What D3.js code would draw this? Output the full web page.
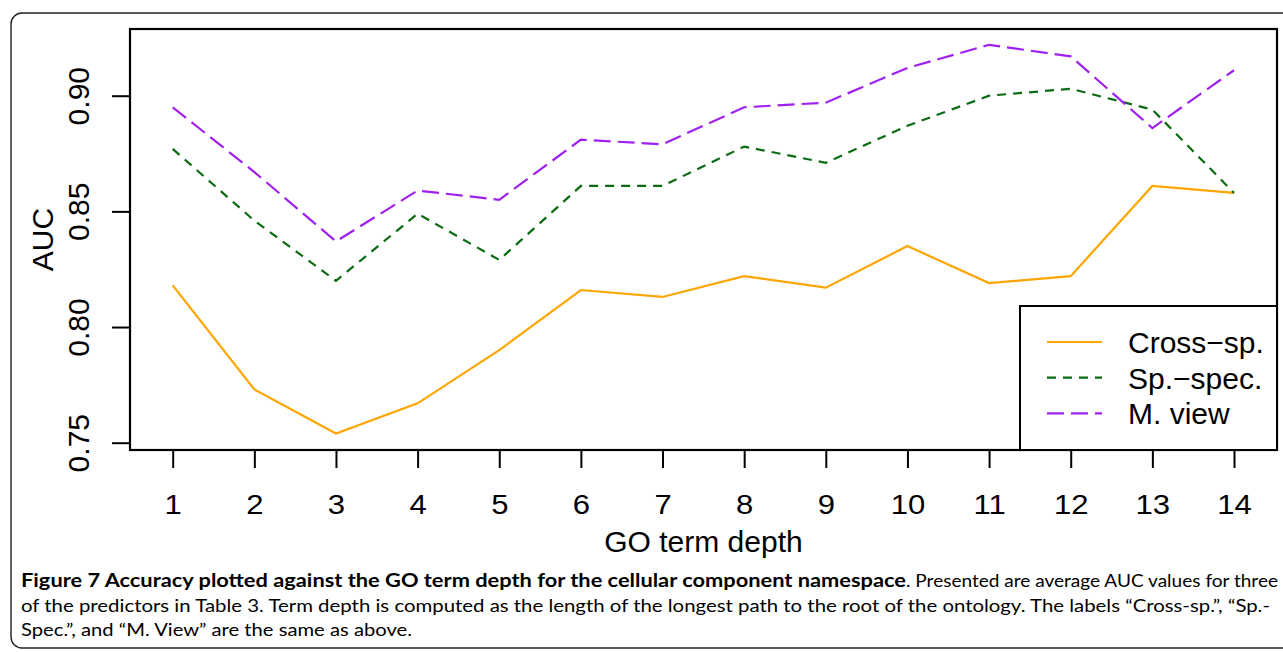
<!DOCTYPE html>
<html>
<head>
<meta charset="utf-8">
<script src="https://cdn.jsdelivr.net/npm/d3@7"></script>
<style>
  body { margin: 0; background: #fff; }
  svg { display: block; }
  .axis text { font-family: "Liberation Sans", Arial, Helvetica, sans-serif; fill: #000; }
</style>
</head>
<body>
<div id="vis"></div>
<script>
// GO term depth on the x axis
var depths = [1, 2, 3, 4, 5, 6, 7, 8, 9, 10, 11, 12, 13, 14];

// average AUC per predictor
var crossSp = [0.818, 0.773, 0.754, 0.767, 0.790, 0.816, 0.813, 0.822, 0.817, 0.835, 0.819, 0.822, 0.861, 0.858];
var spSpec  = [0.877, 0.846, 0.820, 0.849, 0.829, 0.861, 0.861, 0.878, 0.871, 0.887, 0.900, 0.903, 0.894, 0.858];
var mView   = [0.895, 0.867, 0.837, 0.859, 0.855, 0.881, 0.879, 0.895, 0.897, 0.912, 0.922, 0.917, 0.886, 0.911];

var yTicks = [0.75, 0.80, 0.85, 0.90];
var seriesNames = ['Cross\u2212sp.', 'Sp.\u2212spec.', 'M. view'];

var width = 1283;
var height = 652;

// plot region (R style box)
var box = { left: 130, top: 29, right: 1277, bottom: 450 };

var svg = d3.select('#vis').append('svg')
  .attr('width', width)
  .attr('height', height);

// outer rounded frame of the figure
svg.append('rect')
  .attr('x', 11).attr('y', 13)
  .attr('width', 1290).attr('height', 635)
  .attr('rx', 11).attr('ry', 11)
  .attr('fill', 'none')
  .attr('stroke', '#222')
  .attr('stroke-width', 1.4);

var x = d3.scaleLinear().domain([1, 14]).range([172.7, 1234]);
var y = d3.scaleLinear().domain([0.75, 0.90]).range([442.7, 95.7]);

var series = [
  { name: seriesNames[0], values: crossSp, color: '#FFA500', dash: null },
  { name: seriesNames[1], values: spSpec, color: '#0b6b12', dash: '9,7' },
  { name: seriesNames[2], values: mView, color: '#A020F0', dash: '17,7' }
];

var line = d3.line()
  .x(function (d, i) { return x(depths[i]); })
  .y(function (d) { return y(d); });

svg.selectAll('.series')
  .data(series)
  .enter().append('path')
  .attr('class', 'series')
  .attr('d', function (d) { return line(d.values); })
  .attr('fill', 'none')
  .attr('stroke', function (d) { return d.color; })
  .attr('stroke-width', 2.2)
  .attr('stroke-dasharray', function (d) { return d.dash; });

// x axis
var xAxis = svg.append('g')
  .attr('class', 'axis')
  .attr('transform', 'translate(0,' + box.bottom + ')')
  .call(d3.axisBottom(x).tickValues(depths).tickSize(18).tickPadding(10).tickFormat(d3.format('d')));
xAxis.select('.domain').remove();
xAxis.selectAll('.tick line').attr('stroke', '#000').attr('stroke-width', 2);
xAxis.selectAll('.tick text')
  .attr('y', 0).attr('dy', null)
  .attr('transform', 'translate(0,64) scale(1.15,1)')
  .style('font-size', '27px');

// y axis, labels rotated like R's default
var yAxis = svg.append('g')
  .attr('class', 'axis')
  .attr('transform', 'translate(' + box.left + ',0)')
  .call(d3.axisLeft(y).tickValues(yTicks).tickSize(18).tickFormat(d3.format('.2f')));
yAxis.select('.domain').remove();
yAxis.selectAll('.tick line').attr('stroke', '#000').attr('stroke-width', 2);
yAxis.selectAll('.tick text')
  .attr('x', 0).attr('dy', null)
  .attr('text-anchor', 'middle')
  .attr('transform', 'translate(-41,0) rotate(-90)')
  .style('font-size', '30px');

// plot box
svg.append('rect')
  .attr('x', box.left).attr('y', box.top)
  .attr('width', box.right - box.left).attr('height', box.bottom - box.top)
  .attr('fill', 'none')
  .attr('stroke', '#000')
  .attr('stroke-width', 2.2);

// axis titles
svg.append('text')
  .attr('x', (box.left + box.right) / 2).attr('y', 552)
  .attr('text-anchor', 'middle')
  .style('font-family', '"Liberation Sans", Arial, sans-serif')
  .style('font-size', '30px')
  .text('GO term depth');

svg.append('text')
  .attr('transform', 'translate(53,' + ((box.top + box.bottom) / 2) + ') rotate(-90)')
  .attr('text-anchor', 'middle')
  .style('font-family', '"Liberation Sans", Arial, sans-serif')
  .style('font-size', '30px')
  .text('AUC');

// legend
var legend = svg.append('g');
legend.append('rect')
  .attr('x', 1020).attr('y', 306)
  .attr('width', box.right - 1020).attr('height', box.bottom - 306)
  .attr('fill', '#fff')
  .attr('stroke', '#000')
  .attr('stroke-width', 2);

var legendRows = legend.selectAll('.row')
  .data(series)
  .enter().append('g')
  .attr('class', 'row')
  .attr('transform', function (d, i) { return 'translate(0,' + (342 + i * 35.7) + ')'; });

legendRows.append('line')
  .attr('x1', 1047).attr('x2', 1102)
  .attr('stroke', function (d) { return d.color; })
  .attr('stroke-width', 2.2)
  .attr('stroke-dasharray', function (d) { return d.dash; });

legendRows.append('text')
  .attr('x', 1128).attr('y', 11)
  .style('font-family', '"Liberation Sans", Arial, sans-serif')
  .style('font-size', '30px')
  .text(function (d) { return d.name; });

// caption
var capFont = 'Lato, "Open Sans", sans-serif';
svg.append('text')
  .attr('x', 21).attr('y', 587)
  .attr('textLength', 885).attr('lengthAdjust', 'spacingAndGlyphs')
  .style('font-family', capFont).style('font-size', '18px').style('font-weight', 'bold')
  .text('Figure 7 Accuracy plotted against the GO term depth for the cellular component namespace');
svg.append('text')
  .attr('x', 906).attr('y', 587)
  .attr('textLength', 372).attr('lengthAdjust', 'spacingAndGlyphs')
  .style('font-family', capFont).style('font-size', '18px')
  .text('. Presented are average AUC values for three');
svg.append('text')
  .attr('x', 21).attr('y', 612)
  .attr('textLength', 1249).attr('lengthAdjust', 'spacingAndGlyphs')
  .style('font-family', capFont).style('font-size', '18px')
  .text('of the predictors in Table 3. Term depth is computed as the length of the longest path to the root of the ontology. The labels \u201cCross-sp.\u201d, \u201cSp.-');
svg.append('text')
  .attr('x', 21).attr('y', 636)
  .attr('textLength', 391).attr('lengthAdjust', 'spacingAndGlyphs')
  .style('font-family', capFont).style('font-size', '18px')
  .text('Spec.\u201d, and \u201cM. View\u201d are the same as above.');
</script>
</body>
</html>
